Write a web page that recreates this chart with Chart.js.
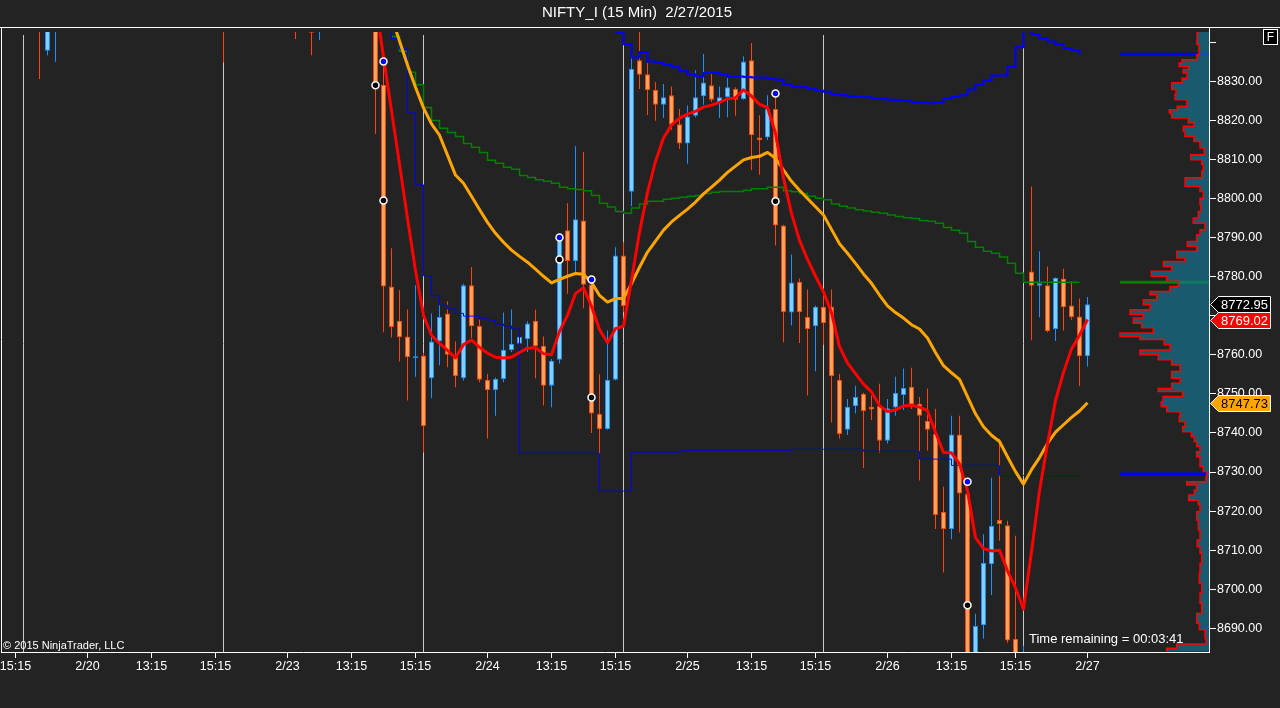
<!DOCTYPE html>
<html><head><meta charset="utf-8">
<script src="https://cdn.jsdelivr.net/npm/chart.js@4/dist/chart.umd.min.js"></script>
<style>html,body{margin:0;padding:0;background:#232323;overflow:hidden}canvas{display:block}</style>
</head><body>
<canvas id="c" width="1280" height="708"></canvas>
<script>
// ---------- DATA ----------
const chartTitle = 'NIFTY_I (15 Min)  2/27/2015';
const copyrightText = '\u00A9 2015 NinjaTrader, LLC';
const timeRemainingText = 'Time remaining = 00:03:41';

const tickIdx    = [-1, 8, 16, 24, 33, 41, 49, 58, 66, 74, 83, 91, 99, 108, 116, 124, 133];
const tickLabels = ['15:15','2/20','13:15','15:15','2/23','13:15','15:15','2/24','13:15','15:15','2/25','13:15','15:15','2/26','13:15','15:15','2/27'];
const yTickValues = [8690, 8700, 8710, 8720, 8730, 8740, 8750, 8760, 8770, 8780, 8790, 8800, 8810, 8820, 8830, 8840];
const sessionBreaks = [0, 25, 50, 75, 100, 125];

// bar index (15-min bars) and OHLC
const barIdx = [2, 3, 4, 25, 34, 36, 37].concat(Array.from({length: 90}, (_, k) => 44 + k));
const opens = [8850, 8837.8, 8845, 8850, 8852, 8850, 8846,
  8852, 8829.1, 8777.5, 8768.7, 8764.7, 8759.2, 8759.8, 8754.0, 8763.4, 8770.6,
  8759.8, 8754.0, 8777.8, 8767.4, 8753.6, 8751.0, 8753.8, 8761.2, 8762.8, 8764.0,
  8768.7, 8762.3, 8752.1, 8758.7, 8791.9, 8784.0, 8794.4, 8778.0, 8744.9, 8741.0,
  8753.6, 8785.4, 8801.7, 8835.4, 8831.8, 8827.8, 8824.0, 8826.4, 8819.0, 8814.1,
  8821.2, 8826.2, 8829.0, 8824.7, 8825.9, 8828.0, 8825.5, 8835.4, 8815.6, 8815.6,
  8822.9, 8793.1, 8770.8, 8778.7, 8769.7, 8767.3, 8772.3, 8772.3, 8753.6, 8740.8,
  8746.8, 8750.0, 8746.7, 8746.9, 8738.0, 8746.5, 8749.7, 8751.8, 8747.5, 8743.1,
  8739.8, 8719.8, 8715.4, 8739.6, 8724.4, 8678, 8690.8, 8706.4, 8717.7, 8716.4,
  8687.3, 8679, 8781.3, 8777.7, 8777.8, 8766.6, 8779.5, 8772.6, 8769.8, 8759.6];
const highs = [8860, 8860, 8858, 8855, 8856, 8855, 8856,
  8856, 8835.1, 8787.3, 8776.5, 8771.6, 8777.8, 8760.5, 8770.6, 8773.2, 8773.7,
  8763.4, 8778.2, 8782.5, 8769.0, 8755.1, 8754.2, 8770.8, 8771.6, 8766.1, 8768.6,
  8771.5, 8764.7, 8758.9, 8790.0, 8798.8, 8813.4, 8811.9, 8779.3, 8755.0, 8766.2,
  8787.5, 8788.8, 8839.6, 8842.6, 8834.7, 8829.8, 8829.3, 8828.7, 8822.9, 8823.8,
  8832.8, 8837.0, 8831.9, 8828.7, 8831.9, 8828.5, 8836.4, 8839.8, 8821.3, 8826.4,
  8826.9, 8793.3, 8785.7, 8779.5, 8776.7, 8772.6, 8776.1, 8776.7, 8755.1, 8748.7,
  8752.1, 8750.3, 8749.6, 8752.6, 8748.7, 8754.4, 8756.5, 8756.7, 8749.2, 8751.4,
  8746.2, 8726.2, 8744.4, 8744.4, 8727.5, 8693.7, 8714.1, 8728.5, 8738.5, 8717.5,
  8713.7, 8685.5, 8803.1, 8786.5, 8782.6, 8779.8, 8782.0, 8778.8, 8774.4, 8774.8];
const lows = [8830.6, 8836.7, 8835.0, 8834.8, 8840.8, 8836.7, 8840.6,
  8816.5, 8765.8, 8764.4, 8758.3, 8748.3, 8754.4, 8735.0, 8748.9, 8757.3, 8756.8,
  8751.7, 8753.4, 8764.3, 8753.0, 8738.6, 8744.4, 8753.0, 8760.7, 8755.8, 8760.7,
  8754.0, 8747.0, 8746.6, 8757.8, 8775.6, 8780.9, 8771.9, 8740.0, 8725.6, 8740.8,
  8753.4, 8770.9, 8798.1, 8828.0, 8821.4, 8819.9, 8820.6, 8817.6, 8812.7, 8808.9,
  8820.8, 8824.0, 8824.7, 8820.6, 8820.8, 8821.2, 8825.3, 8807.3, 8806.1, 8815.0,
  8788.0, 8763.2, 8767.5, 8763.0, 8749.6, 8755.8, 8762.6, 8742.7, 8738.6, 8739.5,
  8745.0, 8731.0, 8743.3, 8734.9, 8737.3, 8744.4, 8745.9, 8746.1, 8727.8, 8735.5,
  8715.4, 8704.3, 8712.8, 8714.5, 8675, 8675, 8687.3, 8698.5, 8712.4, 8686.3,
  8676, 8677, 8763.7, 8769.6, 8765.8, 8763.5, 8766.2, 8769.0, 8752.0, 8757.0];
const closes = [8845, 8855, 8852, 8845, 8848, 8842.4, 8852,
  8829.0, 8777.5, 8767.1, 8764.5, 8759.4, 8759.6, 8741.8, 8763.4, 8769.7, 8760.0,
  8754.5, 8777.8, 8767.3, 8753.6, 8751.0, 8753.8, 8761.3, 8762.8, 8764.6, 8768.0,
  8762.2, 8752.1, 8758.5, 8789.8, 8784.0, 8794.7, 8777.9, 8745.0, 8741.0, 8753.6,
  8785.4, 8772.5, 8833.2, 8831.7, 8827.8, 8824.0, 8825.9, 8818.9, 8814.1, 8821.0,
  8825.9, 8829.7, 8825.3, 8825.9, 8828.5, 8825.3, 8835.1, 8816.2, 8814.9, 8822.9,
  8793.1, 8770.9, 8778.5, 8770.9, 8766.6, 8772.3, 8768.1, 8754.5, 8739.7, 8746.7,
  8749.2, 8745.6, 8746.0, 8738.0, 8746.3, 8750.2, 8751.5, 8747.3, 8744.4, 8740.8,
  8719.0, 8715.4, 8739.6, 8724.5, 8678, 8690.6, 8706.7, 8716.2, 8716.7, 8686.9,
  8679, 8683, 8777.7, 8778.3, 8766.1, 8779.7, 8772.2, 8769.6, 8759.6, 8772.95];

// fast (red) and slow (orange) averages, first bar index 44
const redStart = 44;
const red = [8850.1, 8836.2, 8822.5, 8808.8, 8794.9, 8781.6, 8770.1, 8765.0, 8762.9, 8761.1,
  8759.2, 8762.6, 8763.8, 8761.9, 8760.4, 8759.4, 8759.2, 8759.4, 8760.6, 8761.7,
  8761.8, 8760.3, 8760.0, 8766.0, 8770.1, 8775.7, 8777.2, 8772.4, 8766.5, 8763.1,
  8766.7, 8767.3, 8779.1, 8791.4, 8801.6, 8809.5, 8815.5, 8818.8, 8820.6, 8821.6,
  8822.3, 8823.4, 8823.9, 8824.6, 8825.5, 8825.8, 8827.8, 8826.2, 8824.1, 8823.3,
  8816.7, 8805.2, 8796.2, 8789.3, 8784.4, 8780.1, 8776.1, 8770.8, 8762.1, 8757.9,
  8755.2, 8752.5, 8750.5, 8747.0, 8745.5, 8745.9, 8746.9, 8747.1, 8746.6, 8745.7,
  8740.2, 8735.0, 8734.9, 8732.1, 8725.2, 8713.2, 8710.4, 8709.8, 8710.0, 8704.7,
  8700.4, 8694.9, 8709.6, 8725.2, 8737.2, 8748.3, 8755.5, 8761.5, 8765.0, 8769.02];
const orangeStart = 44;
const orange = [8858, 8852.4, 8846.5, 8840.3, 8834.2, 8828.5, 8823.2, 8819.1, 8816.2, 8811.1,
  8806.0, 8803.9, 8800.6, 8797.2, 8793.9, 8791.1, 8788.8, 8786.8, 8785.2, 8783.7,
  8781.9, 8780.1, 8778.4, 8779.3, 8780.1, 8780.8, 8780.6, 8778.5, 8775.2, 8773.5,
  8774.4, 8774.4, 8778.2, 8782.4, 8786.3, 8789.1, 8791.9, 8794.0, 8795.7, 8797.3,
  8799.1, 8801.2, 8802.9, 8804.7, 8806.7, 8808.3, 8809.9, 8810.5, 8810.8, 8811.8,
  8810.3, 8807.3, 8804.4, 8802.1, 8800.0, 8797.9, 8795.8, 8792.1, 8788.4, 8786.0,
  8783.4, 8780.7, 8778.3, 8775.3, 8772.5, 8770.8, 8769.4, 8767.7, 8766.6, 8764.3,
  8760.6, 8757.2, 8755.4, 8753.7, 8749.3, 8744.9, 8741.6, 8739.4, 8737.8, 8733.9,
  8730.1, 8726.9, 8730.6, 8733.7, 8737.3, 8740.2, 8742.1, 8744.0, 8745.6, 8747.73];
// VWAP-like green step line, first bar 46
const greenStart = 46;
const green = [8841.5, 8837.7, 8832.3, 8829.1, 8823.3, 8820.0, 8818.0, 8816.9, 8815.9, 8814.1,
  8813.1, 8811.8, 8809.8, 8809.0, 8808.0, 8807.5, 8805.9, 8805.4, 8804.8, 8804.4,
  8803.9, 8802.9, 8802.5, 8802.3, 8802.0, 8800.8, 8798.8, 8797.8, 8796.7, 8796.2,
  8797.6, 8798.6, 8799.3, 8799.3, 8799.8, 8800.1, 8800.3, 8800.6, 8800.8, 8801.3,
  8801.6, 8801.8, 8801.8, 8801.8, 8802.1, 8802.5, 8802.5, 8802.9, 8802.9, 8802.0,
  8801.7, 8801.3, 8800.6, 8800.1, 8799.7, 8798.6, 8798.0, 8797.6, 8797.1, 8796.8,
  8796.5, 8796.2, 8795.8, 8795.4, 8795.1, 8794.9, 8794.4, 8794.2, 8793.7, 8792.6,
  8791.9, 8791.1, 8789.0, 8787.5, 8786.5, 8786.0, 8785.0, 8783.4, 8780.9, 8778.6,
  8778.6, 8778.6, 8778.6, 8778.6, 8778.6, 8778.6, 8778.6];
// blue step lines
const blueAStart = 45;
const blueA = [8850, 8840.9, 8838.3, 8821.9, 8803.5, 8780.2, 8775.1, 8772.7, 8771.7, 8770.6,
  8769.9, 8769.9, 8769.4, 8768.9, 8767.9, 8767.4, 8766.6, 8734.8, 8734.8, 8734.8,
  8734.8, 8734.8, 8734.8, 8734.8, 8734.8, 8734.8, 8734.8, 8725.1, 8725.1, 8725.1,
  8725.1, 8735.1, 8735.1, 8735.1, 8735.1, 8735.1, 8735.1, 8735.4, 8735.6, 8735.6,
  8735.6, 8735.6, 8735.6, 8735.6, 8735.6, 8735.6, 8735.6, 8735.6, 8735.6, 8735.6,
  8735.6, 8735.8, 8735.8, 8735.8, 8735.8, 8735.8, 8735.8, 8735.8, 8735.8, 8735.8,
  8735.3, 8735.3, 8735.3, 8735.3, 8735.3, 8735.3, 8735.3, 8733.3, 8733.3, 8733.3,
  8733.3, 8731.7, 8731.7, 8731.7, 8731.7, 8731.7, 8731.7, 8729.1, 8729.1, 8729.1,
  8729.1, 8729.1, 8729.1, 8729.1, 8729.1, 8729.1, 8729.1, 8729.1];
const blueBStart = 74;
const blueB = [8842.4, 8839.5, 8836.1, 8837.5, 8835.1, 8834.8, 8834.2, 8833.6, 8832.6, 8831.9,
  8831.3, 8832.1, 8832.1, 8831.7, 8831.1, 8831.2, 8831.1, 8831.0, 8831.0, 8830.7,
  8830.4, 8829.3, 8828.7, 8828.5, 8828.0, 8827.6, 8827.3, 8826.7, 8826.4, 8826.2,
  8826.0, 8825.9, 8825.6, 8825.5, 8825.3, 8825.1, 8825.0, 8824.7, 8824.7, 8824.4,
  8824.7, 8825.6, 8826.0, 8826.4, 8827.9, 8829.1, 8830.3, 8831.5, 8831.5, 8833.8,
  8838.7, 8850, 8842.1, 8841.1, 8840.2, 8839.5, 8838.5, 8837.9, 8836.8];
// swing dots
const blueDotIdx = [45, 67, 71, 94, 118];
const blueDotVal = [8835.1, 8790.0, 8779.3, 8826.9, 8727.5];
const blackDotIdx = [44, 45, 67, 71, 94, 118];
const blackDotVal = [8829.0, 8799.5, 8784.4, 8749.1, 8799.3, 8695.9];
// volume profile (price level -> volume units)
const profilePrice = [8842.6, 8839.4, 8836.8, 8835.5, 8834.7, 8833.8, 8833.0, 8832.1, 8830.8, 8829.6,
  8827.9, 8826.6, 8825.3, 8823.6, 8822.7, 8821.9, 8820.6, 8819.3, 8818.5, 8817.2,
  8815.9, 8814.6, 8812.9, 8811.2, 8809.9, 8808.7, 8807.0, 8805.3, 8803.1, 8801.8,
  8800.1, 8798.4, 8796.7, 8795.0, 8793.7, 8792.0, 8790.7, 8789.0, 8787.8, 8786.5,
  8784.8, 8783.9, 8782.6, 8781.4, 8780.1, 8778.8, 8777.5, 8776.2, 8775.4, 8774.1,
  8772.8, 8771.5, 8770.3, 8769.4, 8768.1, 8766.9, 8765.6, 8764.7, 8763.9, 8762.6,
  8761.2, 8760.0, 8758.7, 8757.4, 8755.7, 8754.0, 8752.7, 8751.4, 8750.6, 8749.3,
  8748.0, 8746.7, 8745.4, 8744.2, 8742.9, 8741.6, 8740.3, 8739.0, 8737.8, 8736.5,
  8735.2, 8733.9, 8732.6, 8731.4, 8730.1, 8728.8, 8727.5, 8726.7, 8725.4, 8724.1,
  8722.8, 8721.6, 8719.8, 8717.7, 8715.2, 8712.6, 8710.9, 8709.2, 8706.6, 8704.1,
  8701.5, 8699.0, 8696.4, 8693.8, 8691.3, 8689.6, 8687.4, 8686.0, 8684.9, 8684.0];
const profileVol = [10, 12, 10, 12, 27, 29.7, 20.7, 25.7, 22, 27,
  37.3, 33, 34, 22, 31.7, 39.7, 37.3, 20.7, 15, 25.7,
  24, 15, 9, 4.7, 18.3, 7.3, 5.7, 7.3, 24, 9,
  5.7, 9, 8.3, 10.7, 15.7, 4, 9, 12.3, 21.7, 12.3,
  32.3, 24, 45.7, 37.3, 57.7, 42.3, 30.7, 39, 59, 52.3,
  65.7, 59, 79, 65.7, 75.7, 67.3, 55.7, 89, 69, 45,
  39, 69, 50.7, 37.3, 29, 37.3, 29, 37.3, 50.7, 26.3,
  46, 47.7, 42.3, 29, 29.7, 24, 26.3, 17.7, 14.7, 12.3,
  9, 12.3, 9, 9, 5.7, 2.3, 3, 22.3, 12.3, 14.7,
  20.3, 10.7, 9, 12.3, 10.7, 9, 11.7, 9, 7.3, 9,
  9.7, 7.3, 9, 7.3, 12.3, 9.7, 4, 3, 32.3, 42.3];
const profileVAHigh = 8836.9, profilePOC = 8778.6, profileVALow = 8729.5;

// ---------- CHART ----------
const FONT = "'Liberation Sans', Arial, Helvetica, sans-serif";
Chart.defaults.font.family = FONT;
const X_MIN = -2.8125, X_MAX = 148.1875;
const Y_MIN = 8683.93, Y_MAX = 8843.90;
const PROFILE_SCALE_MAX = 1208;
const CLIP = {left: 0, top: -5, right: 0, bottom: 0};
const UP_FILL = '#87CEFA', UP_LINE = '#1E90FF', DN_FILL = '#F4A460', DN_LINE = '#FF4500';

const isUp = k => closes[k] >= opens[k];
const pts = (start, arr) => arr.map((y, k) => ({x: start + k, y}));
const profMax = Math.max(...profileVol);
const levelLine = (p, color) => ({
  type: 'line', xAxisID: 'xp', yAxisID: 'y', order: 11, clip: CLIP,
  data: [{x: profMax, y: p}, {x: 0, y: p}],
  borderColor: color, borderWidth: 3, pointRadius: 0
});

const deco = {
  id: 'deco',
  beforeDraw(chart) {
    const c = chart.ctx; c.save(); c.fillStyle = '#232323'; c.fillRect(0, 0, chart.width, chart.height); c.restore();
  },
  beforeDatasetsDraw(chart) {
    const c = chart.ctx, xs = chart.scales.x, a = chart.chartArea;
    c.save(); c.strokeStyle = '#c8c8c8'; c.lineWidth = 1;
    sessionBreaks.forEach(i => {
      const x = Math.round(xs.getPixelForValue(i) - 0.5) + 0.5;
      c.beginPath(); c.moveTo(x, a.top + 8); c.lineTo(x, a.bottom); c.stroke();
    });
    c.restore();
  },
  afterDraw(chart) {
    const c = chart.ctx, a = chart.chartArea, ys = chart.scales.y;
    c.save();
    c.strokeStyle = '#ffffff'; c.lineWidth = 1;
    c.beginPath(); c.moveTo(0, 27.5); c.lineTo(chart.width, 27.5); c.stroke();
    c.beginPath(); c.moveTo(1.5, 27); c.lineTo(1.5, a.bottom); c.stroke();
    c.fillStyle = '#ffffff'; c.textBaseline = 'middle';
    c.font = '15px ' + FONT; c.textAlign = 'center';
    c.fillText(chartTitle, 637, 13);
    c.textAlign = 'left';
    c.font = '11px ' + FONT; c.fillText(copyrightText, 3, 646);
    c.font = '13px ' + FONT; c.fillText(timeRemainingText, 1029, 639);
    const tag = (v, fill, txt) => {
      const y = Math.round(ys.getPixelForValue(v)) + 0.5;
      c.beginPath(); c.moveTo(1210.5, y); c.lineTo(1218.5, y - 8); c.lineTo(1270.5, y - 8);
      c.lineTo(1270.5, y + 8); c.lineTo(1218.5, y + 8); c.closePath();
      c.fillStyle = fill; c.fill(); c.strokeStyle = '#ffffff'; c.stroke();
      c.fillStyle = txt; c.font = '13px ' + FONT; c.textAlign = 'left';
      c.fillText(v.toFixed(2), 1221, y + 0.5);
    };
    tag(orange[orange.length - 1], '#FFA500', '#000000');
    tag(red[red.length - 1], '#FF0000', '#ffffff');
    tag(closes[closes.length - 1], '#000000', '#ffffff');
    c.fillStyle = '#000'; c.fillRect(1263.5, 29.5, 14, 15);
    c.strokeStyle = '#fff'; c.strokeRect(1263.5, 29.5, 14, 15);
    c.fillStyle = '#fff'; c.font = '12px ' + FONT; c.textAlign = 'center';
    c.fillText('F', 1270.5, 37.5);
    c.restore();
  }
};

new Chart(document.getElementById('c'), {
  type: 'line',
  data: {
    datasets: [
      levelLine(profileVAHigh, '#0000FF'),
      levelLine(profilePOC, '#008000'),
      levelLine(profileVALow, '#0000FF'),
      { type: 'line', indexAxis: 'y', xAxisID: 'xp', yAxisID: 'y', order: 10, clip: CLIP,
        data: profilePrice.map((p, k) => ({x: profileVol[k], y: p})),
        borderColor: '#FF0000', borderWidth: 1.5, backgroundColor: 'rgba(20,120,150,0.65)',
        fill: 'origin', pointRadius: 0, stepped: true },
      { type: 'bar', order: 9, clip: CLIP, grouped: false, barThickness: 1, inflateAmount: 0,
        data: barIdx.map((x, k) => ({x, y: [lows[k], highs[k]]})),
        backgroundColor: ctx => isUp(ctx.dataIndex) ? UP_LINE : DN_LINE, borderWidth: 0 },
      { type: 'bar', order: 8, clip: CLIP, grouped: false, barThickness: 5, inflateAmount: 0,
        data: barIdx.map((x, k) => ({x, y: [opens[k], closes[k]]})),
        backgroundColor: ctx => isUp(ctx.dataIndex) ? UP_FILL : DN_FILL,
        borderColor: ctx => isUp(ctx.dataIndex) ? UP_LINE : DN_LINE,
        borderWidth: 1, borderSkipped: false },
      { type: 'line', order: 7, clip: CLIP, data: pts(greenStart, green), stepped: true,
        borderColor: '#008000', borderWidth: 1.5, pointRadius: 0 },
      { type: 'line', order: 6, clip: CLIP, data: pts(blueAStart, blueA), stepped: true,
        borderColor: '#0000FF', borderWidth: 1, pointRadius: 0 },
      { type: 'line', order: 6, clip: CLIP, data: pts(blueBStart, blueB), stepped: true,
        borderColor: '#0000FF', borderWidth: 2, pointRadius: 0 },
      { type: 'line', order: 5, clip: CLIP, data: pts(orangeStart, orange),
        borderColor: '#FFA500', borderWidth: 3, pointRadius: 0, tension: 0, borderJoinStyle: 'round' },
      { type: 'line', order: 4, clip: CLIP, data: pts(redStart, red),
        borderColor: '#FF0000', borderWidth: 3, pointRadius: 0, tension: 0, borderJoinStyle: 'round' },
      { type: 'scatter', order: 1, clip: CLIP,
        data: blueDotIdx.map((x, k) => ({x, y: blueDotVal[k]})),
        pointRadius: 3.5, pointBackgroundColor: '#0000FF', pointBorderColor: '#ffffff', pointBorderWidth: 1.5 },
      { type: 'scatter', order: 1, clip: CLIP,
        data: blackDotIdx.map((x, k) => ({x, y: blackDotVal[k]})),
        pointRadius: 3.5, pointBackgroundColor: '#000000', pointBorderColor: '#ffffff', pointBorderWidth: 1.5 }
    ]
  },
  options: {
    responsive: false, animation: false, events: [],
    layout: { autoPadding: false, padding: {top: 27, left: 1, right: 0, bottom: 0} },
    plugins: { legend: {display: false}, tooltip: {enabled: false}, title: {display: false} },
    scales: {
      x: {
        type: 'linear', min: X_MIN, max: X_MAX, offset: false, bounds: 'data',
        afterBuildTicks: s => { s.ticks = tickIdx.map(v => ({value: v})); },
        afterFit: s => { s.height = 56; s.paddingLeft = 0; s.paddingRight = 0; },
        ticks: { autoSkip: false, maxRotation: 0, minRotation: 0, color: '#ffffff',
                 font: {size: 12.5}, padding: 1, callback: (v, i) => tickLabels[i] },
        grid: { drawOnChartArea: false, drawTicks: true, tickLength: 6, color: '#ffffff', offset: false },
        border: { display: true, color: '#ffffff', width: 1 }
      },
      y: {
        type: 'linear', position: 'right', min: Y_MIN, max: Y_MAX, bounds: 'data', beginAtZero: false,
        afterBuildTicks: s => { s.ticks = yTickValues.map(v => ({value: v})); },
        afterFit: s => { s.width = 71; s.paddingTop = 0; s.paddingBottom = 0; },
        ticks: { autoSkip: false, color: '#ffffff', font: {size: 12.5}, padding: 1,
                 callback: (v, i) => i === yTickValues.length - 1 ? '' : Number(v).toFixed(2) },
        grid: { drawOnChartArea: false, drawTicks: true, tickLength: 7, color: '#ffffff' },
        border: { display: true, color: '#ffffff', width: 1 }
      },
      xp: { type: 'linear', axis: 'x', display: false, min: 0, max: PROFILE_SCALE_MAX,
            reverse: true, bounds: 'data', beginAtZero: false }
    }
  },
  plugins: [deco]
});
</script>
</body></html>
